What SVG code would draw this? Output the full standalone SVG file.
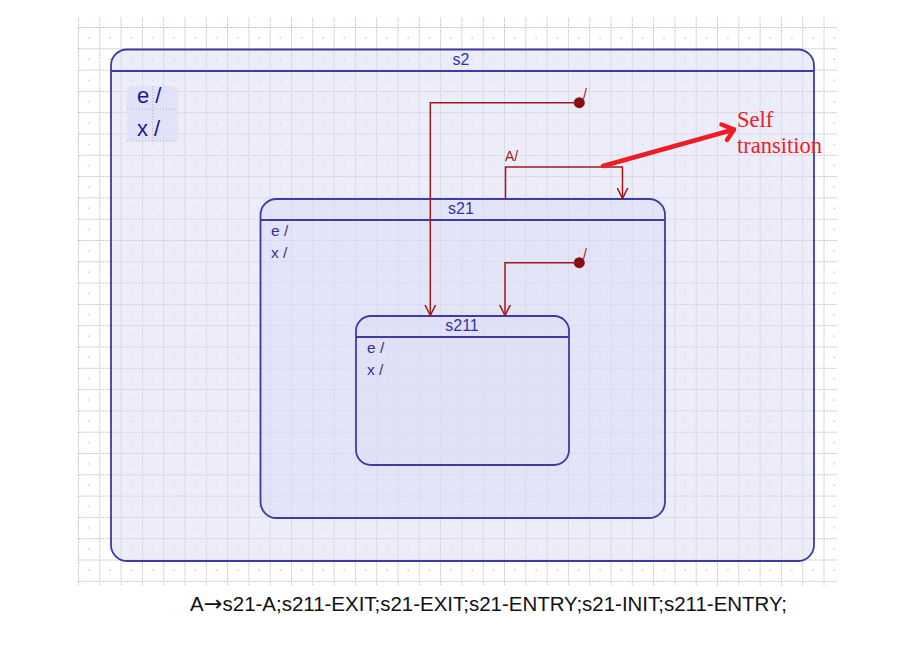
<svg xmlns="http://www.w3.org/2000/svg" width="900" height="660" viewBox="0 0 900 660">
<defs>
<pattern id="grid" x="78" y="27" width="21.3" height="21.3" patternUnits="userSpaceOnUse">
<path d="M0 0.5H21.3M0.5 0V21.3" stroke="#c4c4c4" stroke-width="1" stroke-dasharray="2 1" fill="none"/>
<rect x="10.2" y="10.2" width="1.3" height="1.3" fill="#b5b5b5"/>
</pattern>
<marker id="open" viewBox="0 0 12 12" refX="11" refY="6" markerWidth="12" markerHeight="12" markerUnits="userSpaceOnUse" orient="auto">
<path d="M0 0.5L11 6L0 11.5" fill="none" stroke="#9b1b1b" stroke-width="1.5"/>
</marker>
</defs>
<style>
.state{fill:#dcdcf6;fill-opacity:0.5;stroke:#3c3ca2;stroke-width:1.8}
.hdr{stroke:#3c3ca2;stroke-width:1.8}
.title{font-family:"Liberation Sans",Arial,sans-serif;font-size:16px;fill:#3333a6;text-anchor:middle}
.act{font-family:"Liberation Sans",Arial,sans-serif;font-size:15.5px;fill:#33338f}
.conn{fill:none;stroke:#9b1b1b;stroke-width:1.5}
.lbl{font-family:"Liberation Sans",Arial,sans-serif;font-size:14px;fill:#9b1b1b}
.note{font-family:"Liberation Serif","Times New Roman",serif;font-size:22.5px;fill:#ee1c25}
</style>
<rect x="0" y="0" width="900" height="660" fill="#ffffff"/>
<rect x="77" y="17" width="760" height="568" fill="url(#grid)"/>

<g id="s2">
<rect class="state" x="111" y="49.5" width="703" height="511.5" rx="16"/>
<line class="hdr" x1="111" y1="71" x2="814" y2="71"/>
<text class="title" x="461" y="65">s2</text>
<rect x="127" y="86" width="51" height="55" fill="#dedef8" fill-opacity="0.8"/>
<line x1="152.7" y1="86" x2="152.7" y2="141" stroke="#b0b0b8" stroke-dasharray="1 2"/>
<line x1="127" y1="109" x2="178" y2="109" stroke="#b0b0b8" stroke-dasharray="1 2"/>
<line x1="127" y1="141" x2="178" y2="141" stroke="#b0b0b8" stroke-dasharray="1 2"/>
<text x="137" y="103" font-family="Liberation Sans, Arial, sans-serif" font-size="22" fill="#1a1a90">e /</text>
<text x="137" y="135.5" font-family="Liberation Sans, Arial, sans-serif" font-size="22" fill="#1a1a90">x /</text>
</g>

<g id="s21">
<rect class="state" x="260.5" y="199" width="404.5" height="319" rx="16"/>
<line class="hdr" x1="260.5" y1="220" x2="665" y2="220"/>
<text class="title" x="461" y="214">s21</text>
<text class="act" x="271" y="236">e /</text>
<text class="act" x="271" y="257.5">x /</text>
</g>

<g id="s211">
<rect class="state" x="356" y="316" width="213" height="149" rx="15"/>
<line class="hdr" x1="356" y1="337" x2="569" y2="337"/>
<text class="title" x="462" y="331">s211</text>
<text class="act" x="367" y="353">e /</text>
<text class="act" x="367" y="374.5">x /</text>
</g>

<g id="connectors">
<circle cx="579.3" cy="102.7" r="5.5" fill="#8b0d0d"/>
<path class="conn" d="M579 102.7H430.3V315.5" marker-end="url(#open)"/>
<text class="lbl" x="583" y="99">/</text>
<path class="conn" d="M505.5 199V167H622.5V198.5" marker-end="url(#open)"/>
<text class="lbl" x="505" y="161">A/</text>
<circle cx="579.3" cy="262.7" r="5.5" fill="#8b0d0d"/>
<path class="conn" d="M579 262.7H505V315.5" marker-end="url(#open)"/>
<text class="lbl" x="583" y="259">/</text>
</g>

<g id="annotation">
<path d="M603 166L734 129.5" stroke="#ee1c25" stroke-width="4.5" fill="none" stroke-linecap="round"/>
<path d="M721.5 124.5L734 129.5L727 140" stroke="#ee1c25" stroke-width="4.5" fill="none" stroke-linecap="round" stroke-linejoin="round"/>
<text class="note" x="737" y="127">Self</text>
<text class="note" x="737" y="152.5">transition</text>
</g>

<text x="190" y="611" font-family="Liberation Sans, Arial, sans-serif" font-size="20" fill="#111111" textLength="597" lengthAdjust="spacingAndGlyphs">A<tspan font-family="DejaVu Sans, sans-serif" font-size="22">→</tspan>s21-A;s211-EXIT;s21-EXIT;s21-ENTRY;s21-INIT;s211-ENTRY;</text>
</svg>
